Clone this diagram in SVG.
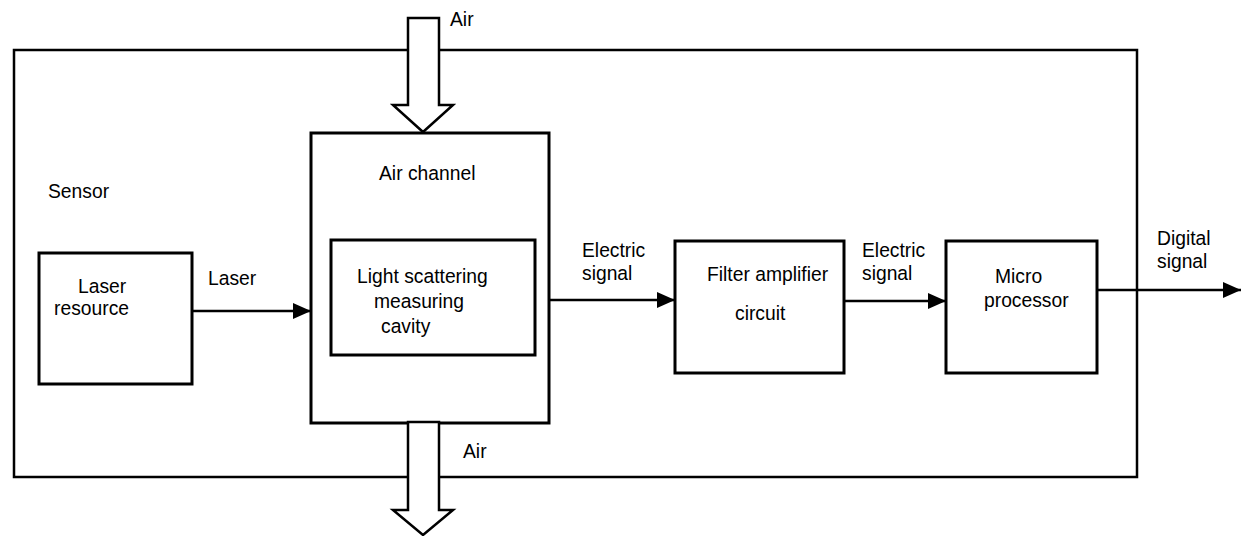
<svg xmlns="http://www.w3.org/2000/svg" width="1248" height="536" viewBox="0 0 1248 536">
<style>
.box{fill:#fff;stroke:#000;stroke-width:3}
.t{font-family:"Liberation Sans",Arial,sans-serif;font-size:19.3px;fill:#000}
.ln{stroke:#000;stroke-width:2.5;fill:none}
.blk{fill:#fff;stroke:#000;stroke-width:2.5;stroke-linejoin:miter}
</style>
<defs>
<marker id="ah" markerUnits="userSpaceOnUse" markerWidth="19" markerHeight="18" refX="18" refY="9" orient="auto">
<path d="M0,1 L18,9 L0,17 z" fill="#000"/>
</marker>
</defs>
<rect width="1248" height="536" fill="#fff"/>
<g id="sensor">
<rect x="14" y="50" width="1123" height="427" fill="none" stroke="#000" stroke-width="2.5"/>
<text class="t" x="48" y="198">Sensor</text>
</g>
<g id="air-channel">
<rect class="box" x="311" y="133" width="238" height="290"/>
<text class="t" x="379" y="180">Air channel</text>
</g>
<g id="cavity">
<rect class="box" x="331" y="240" width="204" height="115"/>
<text class="t" x="357" y="283">Light scattering</text>
<text class="t" x="374" y="308">measuring</text>
<text class="t" x="381" y="333">cavity</text>
</g>
<g id="laser-resource">
<rect class="box" x="39" y="253" width="153" height="131" stroke-width="3.5"/>
<text class="t" x="78" y="293">Laser</text>
<text class="t" x="54" y="315">resource</text>
</g>
<g id="filter">
<rect class="box" x="675" y="241" width="169" height="132"/>
<text class="t" x="707" y="281">Filter amplifier</text>
<text class="t" x="735" y="320">circuit</text>
</g>
<g id="micro">
<rect class="box" x="946" y="241" width="151" height="132"/>
<text class="t" x="995" y="283">Micro</text>
<text class="t" x="984" y="307">processor</text>
</g>
<g id="connectors">
<line class="ln" x1="192" y1="311" x2="311" y2="311" marker-end="url(#ah)"/>
<line class="ln" x1="549" y1="300" x2="675" y2="300" marker-end="url(#ah)"/>
<line class="ln" x1="844" y1="301" x2="946" y2="301" marker-end="url(#ah)"/>
<line class="ln" x1="1097" y1="290" x2="1241" y2="290" marker-end="url(#ah)"/>
<polygon class="blk" points="408,18 439,18 439,105 453,105 423,132 393,105 408,105"/>
<polygon class="blk" points="408,422 439,422 439,510 453,510 423,535 393,510 408,510"/>
</g>
<g id="labels">
<text class="t" x="450" y="26">Air</text>
<text class="t" x="463" y="458">Air</text>
<text class="t" x="208" y="285">Laser</text>
<text class="t" x="582" y="257">Electric</text>
<text class="t" x="582" y="280">signal</text>
<text class="t" x="862" y="257">Electric</text>
<text class="t" x="862" y="280">signal</text>
<text class="t" x="1157" y="245">Digital</text>
<text class="t" x="1157" y="268">signal</text>
</g>
</svg>
